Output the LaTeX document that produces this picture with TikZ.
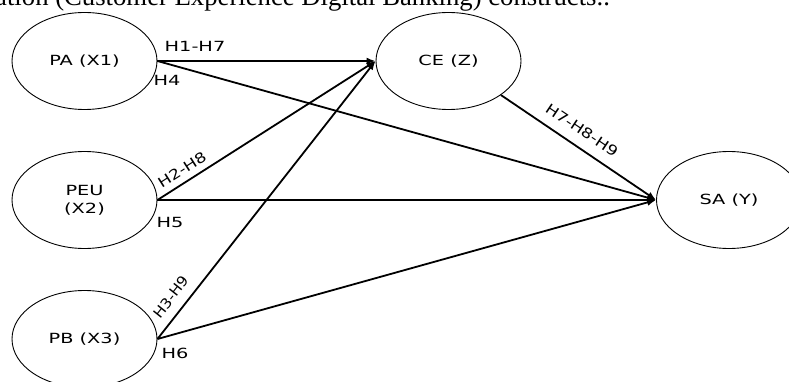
\documentclass[tikz,border=0pt]{standalone}
\usepackage{graphicx}
\usepackage{fontspec}
\setmainfont{DejaVu Sans}
\newfontfamily\capserif{Liberation Serif}
\usetikzlibrary{arrows.meta,shapes.geometric}
\newcommand\sxt[1]{\scalebox{1.38}[1]{#1}}
\begin{document}
\begin{tikzpicture}[x=1pt,y=-1pt,
  var/.style={draw, line width=0.9pt, ellipse, minimum width=145pt, minimum height=97pt,
    inner sep=0pt, align=center, font=\fontsize{14}{18}\selectfont},
  lab/.style={inner sep=0pt, font=\fontsize{14}{16}\selectfont},
  path/.style={line width=1.8pt, -{Latex[length=9pt,width=7pt]}}]
\clip (0,0) rectangle (789,382);
\node[anchor=base west, inner sep=0pt, font=\capserif\fontsize{26.7}{30}\selectfont] (cap) at (-5,6)
  {ation (Customer Experience Digital Banking) constructs..};
\node[var] (PA) at (84.5,61) {\sxt{PA (X1)}};
\node[var] (PEU) at (84.5,200) {\sxt{PEU}\\\sxt{(X2)}};
\node[var] (PB) at (84.5,339) {\sxt{PB (X3)}};
\node[var] (CE) at (448.5,61) {\sxt{CE (Z)}};
\node[var] (SA) at (729,200) {\sxt{SA (Y)}};
\draw[path] (PA.east) -- (CE.west);
\draw[path] (PA.east) -- (SA.west);
\draw[path] (PEU.east) -- (CE.west);
\draw[path] (PEU.east) -- (SA.west);
\draw[path] (PB.east) -- (CE.west);
\draw[path] (PB.east) -- (SA.west);
\draw[path] (CE.-33.2) -- (SA.west);
\node[lab] (l17) at (195,46) {\sxt{H1-H7}};
\node[lab] (l4) at (167,80) {\sxt{H4}};
\node[lab, rotate=32.4] (l28) at (182,170) {\scalebox{1.23}[1]{H2-H8}};
\node[lab] (l5) at (170,222) {\sxt{H5}};
\node[lab, rotate=51.7] (l39) at (171,297) {\scalebox{1.1}[1]{H3-H9}};
\node[lab] (l6) at (175,353) {\sxt{H6}};
\node[lab, rotate=-33.8] (l789) at (582,130) {\scalebox{1.22}[1]{H7-H8-H9}};
\end{tikzpicture}
\end{document}
